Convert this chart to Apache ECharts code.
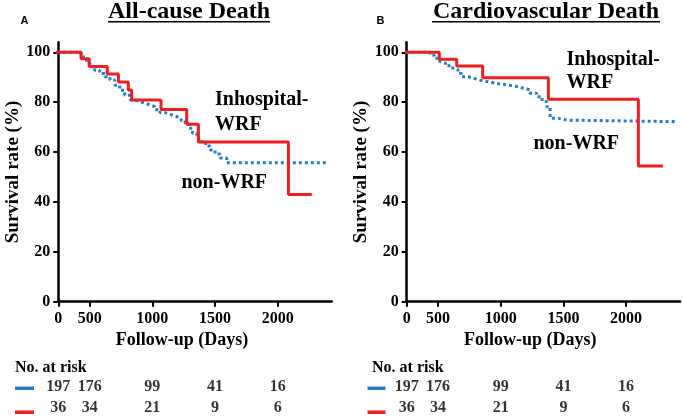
<!DOCTYPE html>
<html><head><meta charset="utf-8">
<script src="https://cdn.jsdelivr.net/npm/echarts@6/dist/echarts.min.js"></script>
<style>html,body{margin:0;padding:0;background:#fff}#c{width:683px;height:418px}</style>
</head><body><div id="c"></div>
<script>
// ---- data ----
const tickDays = [250, 500, 1000, 1500, 2000];   // day 0 is drawn at the start of the axis
const tickLabels = ['0', '500', '1000', '1500', '2000'];
const yTicks = [0, 20, 40, 60, 80, 100];

// Panel A: All-cause death
const aWrfDays  = [0, 431, 497, 641, 729, 808, 835, 1069, 1274, 1367, 2085, 2271];
const aWrfSurv  = [100, 97.4, 94.3, 91.3, 88.1, 84.9, 80.9, 77.1, 71.1, 64.0, 43.0, 43.0];
const aNonDays  = [0, 431, 450, 475, 503, 540, 580, 620, 662, 700, 740, 780, 822, 860, 900, 940, 981, 1020, 1061, 1100, 1150, 1194, 1230, 1261, 1290, 1320, 1354, 1390, 1425, 1460, 1500, 1540, 1593, 2385];
const aNonSurv  = [100, 98.5, 97, 95.5, 94.2, 92.8, 91.5, 90.2, 88.9, 86.8, 84.8, 82.8, 80.9, 80.2, 79.6, 78.9, 78.2, 77, 75.8, 75, 74.2, 73.5, 72.5, 71.5, 69.5, 67.5, 65.5, 64, 62.4, 60.8, 59.2, 57.6, 55.7, 55.7];

// Panel B: Cardiovascular death
const bWrfDays  = [0, 510, 649, 856, 1380, 2098, 2293];
const bWrfSurv  = [100, 97.2, 94.5, 89.8, 81.2, 54.4, 54.4];
const bNonDays  = [0, 436, 470, 500, 516, 560, 600, 635, 660, 689, 740, 790, 835, 900, 950, 995, 1060, 1110, 1154, 1180, 1230, 1287, 1330, 1367, 1394, 1460, 1527, 2391];
const bNonSurv  = [100, 98.8, 97.6, 96.4, 95.6, 94.6, 93.7, 92.9, 91.5, 90.2, 89.5, 88.8, 88.2, 87.7, 87.3, 86.9, 86.4, 86.0, 85.6, 85.0, 83.6, 82.2, 80.3, 78.2, 73.5, 72.8, 72.2, 72.2];

// Numbers at risk (same in both panels)
const riskNonWRF = [197, 176, 99, 41, 16];
const riskWRF    = [36, 34, 21, 9, 6];

// ---- chart ----
const RED = '#ee1f23', BLUE = '#2b7cc3';
const SERIF = '"Liberation Serif","Times New Roman",serif';
const chart = echarts.init(document.getElementById('c'));
const zip = (a, b) => a.map((v, i) => [v, b[i]]);

const gridsMain = [
  {left: 58.3, top: 42.3, width: 273.4, height: 259.4},
  {left: 406.7, top: 42.3, width: 273.3, height: 259.4}
];
const gridsRisk = [
  {left: 58.3, top: 376.5, width: 273.4, height: 48},
  {left: 406.7, top: 376.5, width: 273.3, height: 48}
];

function mainX(gi) {
  return {
    type: 'value', gridIndex: gi, min: 250, max: 2430,
    name: 'Follow-up (Days)', nameLocation: 'middle', nameGap: 29,
    nameTextStyle: {fontFamily: SERIF, fontWeight: 'bold', fontSize: 18, color: '#000', padding: [0, 26, 0, 0]},
    axisLine: {lineStyle: {color: '#000', width: 2.5}},
    axisTick: {show: true, length: 5, lineStyle: {color: '#000', width: 2}, customValues: tickDays},
    axisLabel: {customValues: tickDays, margin: 9, fontFamily: SERIF, fontWeight: 'bold', fontSize: 16, color: '#000',
      formatter: v => tickLabels[tickDays.indexOf(v)] ?? ''},
    splitLine: {show: false}
  };
}
function mainY(gi) {
  return {
    type: 'value', gridIndex: gi, min: 0, max: 104,
    name: 'Survival rate (%)', nameLocation: 'middle', nameGap: 31,
    nameTextStyle: {fontFamily: SERIF, fontWeight: 'bold', fontSize: 19, color: '#000'},
    axisLine: {show: true, lineStyle: {color: '#000', width: 2.5}},
    axisTick: {show: true, length: 5, lineStyle: {color: '#000', width: 2}, customValues: yTicks},
    axisLabel: {customValues: yTicks, margin: 8, fontFamily: SERIF, fontWeight: 'bold', fontSize: 16, color: '#000'},
    splitLine: {show: false}
  };
}
function riskX(gi) {
  return {type: 'value', gridIndex: gi, min: 250, max: 2430, show: false};
}
function riskY(gi) {
  return {type: 'category', gridIndex: gi, data: ['non', 'wrf'], inverse: true, show: false};
}

function kmLine(xi, days, surv, color, dotted) {
  return {
    type: 'line', xAxisIndex: xi, yAxisIndex: xi, step: 'end', symbol: 'none', clip: true,
    data: zip(days, surv), silent: true, z: dotted ? 2 : 3,
    lineStyle: {color, width: 3, type: dotted ? [3, 3] : 'solid', cap: 'butt'}
  };
}
function riskSeries(xi, vals, row) {
  return {
    type: 'scatter', xAxisIndex: xi, yAxisIndex: xi, symbolSize: 1, silent: true,
    itemStyle: {color: 'rgba(0,0,0,0)'},
    data: tickDays.map((d, i) => [d, row, vals[i]]),
    label: {show: true, position: 'inside', formatter: p => String(p.data[2]), lineHeight: 10,
      fontFamily: SERIF, fontWeight: 'bold', fontSize: 16, color: '#000'}
  };
}

function txt(x, y, text, size, opts) {
  return {type: 'text', x, y, style: Object.assign({text, fill: '#000', fontFamily: SERIF, fontWeight: 'bold', fontSize: size, textVerticalAlign: 'middle'}, opts || {})};
}

chart.setOption({
  animation: false,
  backgroundColor: '#fff',
  grid: [...gridsMain, ...gridsRisk],
  xAxis: [mainX(0), mainX(1), riskX(2), riskX(3)],
  yAxis: [mainY(0), mainY(1), riskY(2), riskY(3)],
  series: [
    kmLine(0, aNonDays, aNonSurv, BLUE, true),
    kmLine(0, aWrfDays, aWrfSurv, RED, false),
    kmLine(1, bNonDays, bNonSurv, BLUE, true),
    kmLine(1, bWrfDays, bWrfSurv, RED, false),
    riskSeries(2, riskNonWRF, 0), riskSeries(2, riskWRF, 1),
    riskSeries(3, riskNonWRF, 0), riskSeries(3, riskWRF, 1)
  ],
  graphic: [
    txt(20.5, 21, 'A', 11, {fontFamily: '"Liberation Sans",Arial,sans-serif'}),
    txt(376.5, 21, 'B', 11, {fontFamily: '"Liberation Sans",Arial,sans-serif'}),
    txt(189, 11.5, 'All-cause Death', 24, {textAlign: 'center'}),
    {type: 'rect', shape: {x: 108, y: 21, width: 162, height: 1.6}, style: {fill: '#000'}},
    txt(546, 11.5, 'Cardiovascular Death', 24, {textAlign: 'center'}),
    {type: 'rect', shape: {x: 432, y: 21, width: 228, height: 1.6}, style: {fill: '#000'}},
    txt(215, 112.5, 'Inhospital-\nWRF', 20, {lineHeight: 25}),
    txt(181.5, 182.5, 'non-WRF', 20),
    txt(566.5, 71.5, 'Inhospital-\nWRF', 20, {lineHeight: 23}),
    txt(533.5, 143.5, 'non-WRF', 20),
    txt(15, 368, 'No. at risk', 16),
    txt(372, 368, 'No. at risk', 16),
    {type: 'rect', shape: {x: 15, y: 386.5, width: 19, height: 3.5}, style: {fill: BLUE}},
    {type: 'rect', shape: {x: 15, y: 410.5, width: 19, height: 3.5}, style: {fill: RED}},
    {type: 'rect', shape: {x: 367.5, y: 386.5, width: 18, height: 3.5}, style: {fill: BLUE}},
    {type: 'rect', shape: {x: 367.5, y: 410.5, width: 18, height: 3.5}, style: {fill: RED}}
  ]
});
</script></body></html>
